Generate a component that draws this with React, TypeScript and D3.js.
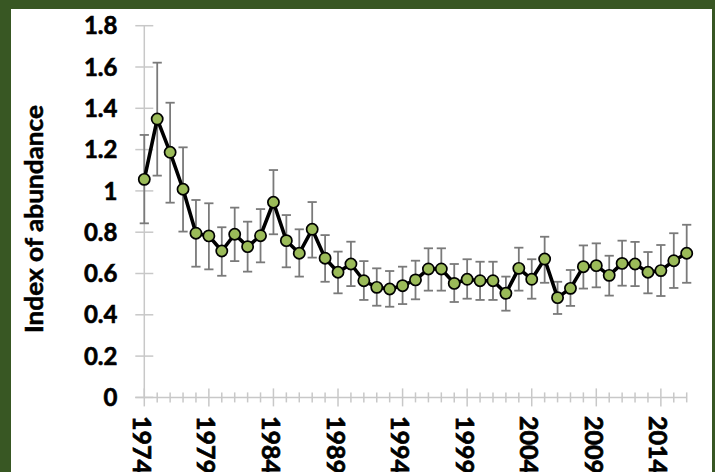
import React, { useEffect } from "react";
import * as d3 from "d3";

const years = [1974, 1975, 1976, 1977, 1978, 1979, 1980, 1981, 1982, 1983, 1984, 1985, 1986, 1987, 1988, 1989, 1990, 1991, 1992, 1993, 1994, 1995, 1996, 1997, 1998, 1999, 2000, 2001, 2002, 2003, 2004, 2005, 2006, 2007, 2008, 2009, 2010, 2011, 2012, 2013, 2014, 2015, 2016];
const indexValues = [1.056, 1.348, 1.187, 1.008, 0.795, 0.782, 0.709, 0.79, 0.73, 0.783, 0.945, 0.759, 0.698, 0.814, 0.674, 0.606, 0.646, 0.565, 0.533, 0.525, 0.541, 0.569, 0.622, 0.622, 0.552, 0.572, 0.565, 0.565, 0.504, 0.625, 0.572, 0.67, 0.483, 0.528, 0.633, 0.638, 0.591, 0.649, 0.646, 0.606, 0.614, 0.662, 0.698];
const lowerValues = [0.843, 1.074, 0.943, 0.803, 0.633, 0.62, 0.589, 0.66, 0.609, 0.654, 0.79, 0.63, 0.585, 0.677, 0.56, 0.504, 0.539, 0.472, 0.444, 0.439, 0.452, 0.475, 0.517, 0.517, 0.462, 0.478, 0.472, 0.472, 0.42, 0.517, 0.478, 0.555, 0.404, 0.443, 0.527, 0.533, 0.493, 0.541, 0.539, 0.504, 0.491, 0.53, 0.555];
const upperValues = [1.271, 1.621, 1.427, 1.211, 0.956, 0.94, 0.824, 0.919, 0.851, 0.912, 1.101, 0.883, 0.814, 0.946, 0.786, 0.706, 0.754, 0.66, 0.625, 0.612, 0.633, 0.662, 0.722, 0.722, 0.646, 0.669, 0.657, 0.657, 0.585, 0.725, 0.669, 0.778, 0.56, 0.617, 0.736, 0.746, 0.686, 0.759, 0.753, 0.704, 0.738, 0.795, 0.836];
const yTicks = [0, 0.2, 0.4, 0.6, 0.8, 1, 1.2, 1.4, 1.6, 1.8];
const yTickLabels = ["0", "0.2", "0.4", "0.6", "0.8", "1", "1.2", "1.4", "1.6", "1.8"];
const xLabelYears = [1974, 1979, 1984, 1989, 1994, 1999, 2004, 2009, 2014];
const yTitle = "Index of abundance";

const W = 715;
const H = 472;
const FONT = "Lato, 'Open Sans', sans-serif";

export default function App() {
  useEffect(() => {
    document.body.style.margin = "0";
  }, []);

  const x = d3.scaleLinear().domain([1974, 2016]).range([144.3, 686.7]);
  const y = d3.scaleLinear().domain([0, 1.8]).range([397.4, 25.7]);
  const axisColor = "#c8c8c8";

  const line = d3
    .line<number>()
    .x((_, i) => x(years[i]))
    .y((d) => y(d));

  return (
    <svg width={W} height={H} style={{ position: "absolute", left: 0, top: 0, display: "block" }}>
      <rect x={0} y={0} width={W} height={H} fill="#385723" />
      <rect x={11} y={9} width={701} height={H} fill="#ffffff" />

      {/* y axis */}
      <line x1={x(1974)} x2={x(1974)} y1={y(1.8)} y2={y(0)} stroke={axisColor} strokeWidth={1.5} />
      {yTicks.map((t) => (
        <line key={"yt" + t} x1={x(1974) - 9} x2={x(1974) + 9} y1={y(t)} y2={y(t)} stroke={axisColor} strokeWidth={1.5} />
      ))}
      {yTicks.map((t, i) => (
        <text
          key={"yl" + t}
          x={117.5}
          y={y(t)}
          dy="0.36em"
          textAnchor="end"
          fontFamily={FONT}
          fontWeight={700}
          fontSize={24}
          fill="#000"
          stroke="#000"
          strokeWidth={0.6}
        >
          {yTickLabels[i]}
        </text>
      ))}

      {/* x axis */}
      <line x1={x(1974) - 9} x2={x(2016)} y1={y(0)} y2={y(0)} stroke={axisColor} strokeWidth={1.5} />
      {years.map((yr) => {
        const major = xLabelYears.includes(yr);
        const h = major ? 9 : 5;
        return (
          <line key={"xt" + yr} x1={x(yr)} x2={x(yr)} y1={y(0) - h} y2={y(0) + h} stroke={axisColor} strokeWidth={1.5} />
        );
      })}
      {xLabelYears.map((yr) => (
        <text
          key={"xl" + yr}
          transform={`translate(${x(yr) - 2.5},416) rotate(90)`}
          dy="0.36em"
          textAnchor="start"
          fontFamily={FONT}
          fontWeight={700}
          fontSize={25}
          fill="#000"
          stroke="#000"
          strokeWidth={0.7}
        >
          {yr}
        </text>
      ))}

      {/* y title */}
      <text
        transform={`translate(43,219) rotate(-90)`}
        textAnchor="middle"
        fontFamily={FONT}
        fontWeight={700}
        fontSize={24}
        fill="#000"
        stroke="#000"
        strokeWidth={0.5}
        textLength={228}
        lengthAdjust="spacingAndGlyphs"
      >
        {yTitle}
      </text>

      {/* error bars */}
      {years.map((yr, i) => (
        <g key={"eb" + yr} stroke="#7a7a7a" strokeWidth={1.8}>
          <line x1={x(yr)} x2={x(yr)} y1={y(lowerValues[i])} y2={y(upperValues[i])} />
          <line x1={x(yr) - 4.6} x2={x(yr) + 4.6} y1={y(lowerValues[i])} y2={y(lowerValues[i])} />
          <line x1={x(yr) - 4.6} x2={x(yr) + 4.6} y1={y(upperValues[i])} y2={y(upperValues[i])} />
        </g>
      ))}

      {/* line */}
      <path d={line(indexValues) || ""} fill="none" stroke="#000" strokeWidth={3.6} strokeLinejoin="round" />

      {/* markers */}
      {years.map((yr, i) => (
        <circle key={"pt" + yr} cx={x(yr)} cy={y(indexValues[i])} r={5.6} fill="#9bbb59" stroke="#000" strokeWidth={1.7} />
      ))}
    </svg>
  );
}
